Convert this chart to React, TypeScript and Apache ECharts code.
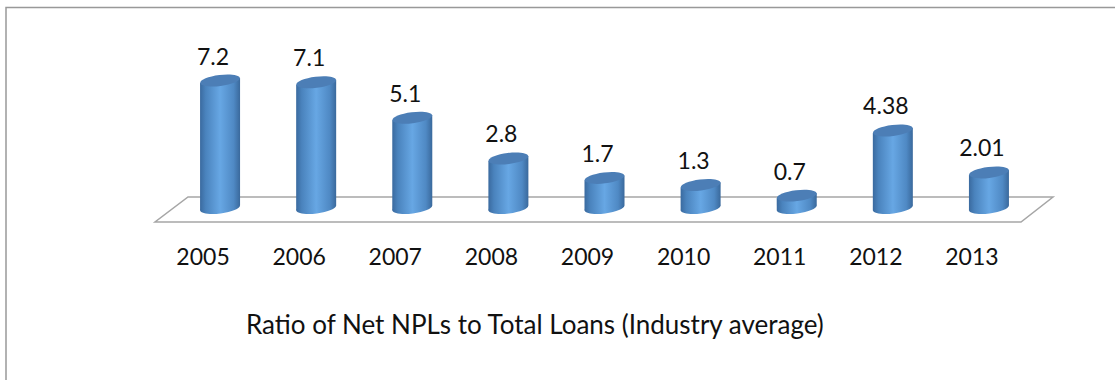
import React, { useEffect, useRef } from "react";
import * as echarts from "echarts";

const years = ["2005", "2006", "2007", "2008", "2009", "2010", "2011", "2012", "2013"];
const ratios = [7.2, 7.1, 5.1, 2.8, 1.7, 1.3, 0.7, 4.38, 2.01];
const chartTitle = "Ratio of Net NPLs to Total Loans (Industry average)";

const FONT = "Lato";
const TEXT = "#111111";
const HALF_W = 20;
const RY = 5.5;
const TILT = (7 * Math.PI) / 180;
const RISE = HALF_W * Math.tan(TILT);

const bodyFill = () =>
  new echarts.graphic.LinearGradient(0, 0, 1, 0, [
    { offset: 0, color: "#3a6a9f" },
    { offset: 0.14, color: "#4a83bd" },
    { offset: 0.5, color: "#67a7e4" },
    { offset: 0.84, color: "#4f89c4" },
    { offset: 1, color: "#3a699c" },
  ]);

// One cylinder: a tilted bottom cap, the shaded body, a darker top cap and the value above it.
const renderCylinder = (_params: any, api: any) => {
  const xPos = api.coord([api.value(0), 0])[0];
  const baseY = api.coord([api.value(0), 0])[1];
  const topY = api.coord([api.value(0), api.value(1)])[1];
  const value = api.value(1);
  const ellipse = (cy: number, fill: any) => ({
    type: "ellipse",
    x: xPos,
    y: cy,
    rotation: TILT,
    shape: { cx: 0, cy: 0, rx: HALF_W, ry: RY },
    style: { fill },
  });
  return {
    type: "group",
    children: [
      ellipse(baseY, bodyFill()),
      {
        type: "polygon",
        shape: {
          points: [
            [xPos - HALF_W, topY + RISE],
            [xPos + HALF_W, topY - RISE],
            [xPos + HALF_W, baseY - RISE],
            [xPos - HALF_W, baseY + RISE],
          ],
        },
        style: { fill: bodyFill() },
      },
      ellipse(topY, "#4c7eb6"),
      {
        type: "text",
        x: xPos - 7,
        y: topY - 25,
        style: {
          text: String(value),
          fill: TEXT,
          font: `23px ${FONT}`,
          align: "center",
          verticalAlign: "middle",
        },
      },
    ],
  };
};

export default function App() {
  const ref = useRef<HTMLDivElement>(null);

  useEffect(() => {
    document.body.style.margin = "0";
    const chart = echarts.init(ref.current!, null, { renderer: "svg" });
    chart.setOption({
      animation: false,
      backgroundColor: "#ffffff",
      textStyle: { fontFamily: FONT },
      title: {
        text: chartTitle,
        left: 246,
        top: 311,
        padding: 0,
        textStyle: { color: TEXT, fontSize: 26, fontWeight: "normal", fontFamily: FONT },
      },
      grid: { left: 172, width: 865, top: 31, height: 177 },
      xAxis: {
        type: "category",
        data: years,
        axisLine: { show: false },
        axisTick: { show: false },
        axisLabel: {
          color: TEXT,
          fontSize: 23,
          fontFamily: FONT,
          margin: 36,
          padding: [0, 34, 0, 0],
        },
      },
      yAxis: { type: "value", min: 0, max: 10, show: false },
      graphic: [
        {
          type: "polyline",
          z: 0,
          shape: { points: [[6, 380], [6, 7.5], [1115, 7.5]] },
          style: { stroke: "#999999", lineWidth: 1.5, fill: "none" },
        },
        {
          type: "polygon",
          z: 0,
          shape: { points: [[155, 222], [1021, 222], [1053, 197], [188, 197]] },
          style: { stroke: "#a6a6a6", lineWidth: 1.5, fill: "none" },
        },
      ],
      series: [
        {
          type: "custom",
          z: 5,
          renderItem: renderCylinder,
          encode: { x: 0, y: 1 },
          data: ratios.map((v, i) => [i, v]),
        },
      ],
    });
    return () => chart.dispose();
  }, []);

  return <div ref={ref} style={{ width: 1115, height: 380 }} />;
}
